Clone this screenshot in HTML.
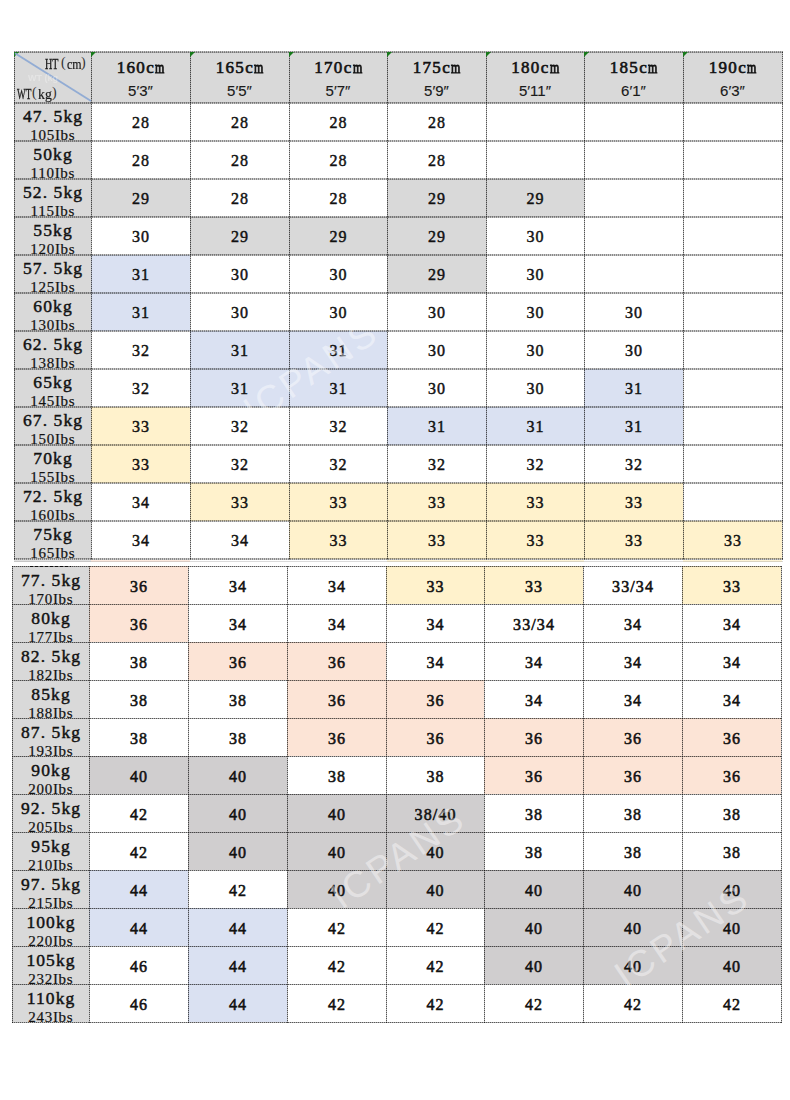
<!DOCTYPE html><html><head><meta charset="utf-8"><style>
html,body{margin:0;padding:0;background:#fff;}
body{width:790px;height:1100px;position:relative;overflow:hidden;font-family:"Liberation Serif",serif;}
div{position:absolute;box-sizing:border-box;}
.hl{background:repeating-linear-gradient(90deg,rgba(0,0,0,0.66) 0 1px,rgba(0,0,0,0.3) 1px 2px);}
.hu{background:repeating-linear-gradient(90deg,rgba(0,0,0,0.46) 0 1px,rgba(0,0,0,0.22) 1px 2px);}
.vl{background:repeating-linear-gradient(180deg,rgba(0,0,0,0.68) 0 1px,rgba(0,0,0,0.27) 1px 2px);}
.c span{position:absolute;left:0;right:0;top:10px;text-align:center;white-space:nowrap;font-size:16px;-webkit-text-stroke:0.35px #111;letter-spacing:1.1px;text-indent:1.1px;color:#111;}
.h span{position:absolute;left:0;right:0;text-align:center;white-space:nowrap;}
.hc{top:6px;font-size:17px;-webkit-text-stroke:0.6px #111;letter-spacing:1.3px;text-indent:1.3px;color:#111;}
.mm{font-style:normal;display:inline-block;transform:scaleX(0.7);transform-origin:0 50%;margin-left:-1px;margin-right:-3px;letter-spacing:0;-webkit-text-stroke:0.9px #111;}
.hf{top:30px;font-family:"Liberation Sans",sans-serif;font-size:15px;color:#1a1a1a;-webkit-text-stroke:0.15px #1a1a1a;}
.k{overflow:hidden;}
.k span{position:absolute;left:0;right:0;text-align:center;white-space:nowrap;}
.kg{top:3px;font-size:17.5px;-webkit-text-stroke:0.45px #111;letter-spacing:1.1px;text-indent:1.1px;color:#111;}
.tri{width:0;height:0;border-top:5px solid #17791a;border-right:5px solid transparent;}
.dg{font-size:14px;line-height:16px;color:#1a1a1a;-webkit-text-stroke:0.3px #1a1a1a;transform:scaleX(0.72);transform-origin:0 0;white-space:nowrap;}
.dgp{font-size:14px;line-height:16px;color:#333;white-space:nowrap;}
.dgl{font-size:14.5px;line-height:16px;color:#1a1a1a;-webkit-text-stroke:0.2px #1a1a1a;transform:scaleX(0.82);transform-origin:0 0;white-space:nowrap;}
.ghost{font-family:"Liberation Sans",sans-serif;font-weight:bold;font-size:9px;line-height:10px;color:rgba(255,255,255,0.3);filter:blur(0.4px);white-space:nowrap;}
.wm{width:200px;height:50px;line-height:50px;text-align:center;font-family:"Liberation Sans",sans-serif;font-size:37px;letter-spacing:3px;text-indent:3px;color:rgba(255,255,255,0.42);transform:rotate(-34deg);white-space:nowrap;}
.lb{top:24px;font-size:15px;letter-spacing:0.7px;text-indent:0.7px;color:#111;-webkit-text-stroke:0.2px #111;}
</style></head><body>
<div style="left:14px;top:52px;width:768px;height:51px;background:#d9d9d9"></div>
<div class="h" style="left:91px;top:52px;width:99px;height:51px;"><span class="hc">160c<i class="mm">m</i></span><span class="hf">5′3″</span></div>
<div class="h" style="left:190px;top:52px;width:99px;height:51px;"><span class="hc">165c<i class="mm">m</i></span><span class="hf">5′5″</span></div>
<div class="h" style="left:289px;top:52px;width:98px;height:51px;"><span class="hc">170c<i class="mm">m</i></span><span class="hf">5′7″</span></div>
<div class="h" style="left:387px;top:52px;width:99px;height:51px;"><span class="hc">175c<i class="mm">m</i></span><span class="hf">5′9″</span></div>
<div class="h" style="left:486px;top:52px;width:98px;height:51px;"><span class="hc">180c<i class="mm">m</i></span><span class="hf">5′11″</span></div>
<div class="h" style="left:584px;top:52px;width:99px;height:51px;"><span class="hc">185c<i class="mm">m</i></span><span class="hf">6′1″</span></div>
<div class="h" style="left:683px;top:52px;width:99px;height:51px;"><span class="hc">190c<i class="mm">m</i></span><span class="hf">6′3″</span></div>
<div class="k" style="left:14px;top:103px;width:77px;height:38px;background:#d9d9d9"><span class="kg" style="top:3px">47. 5kg</span><span class="lb" style="top:24px">105Ibs</span></div>
<div class="c" style="left:91px;top:103px;width:99px;height:38px;"><span style="top:11px;-webkit-text-stroke:0.45px #111">28</span></div>
<div class="c" style="left:190px;top:103px;width:99px;height:38px;"><span style="top:11px;-webkit-text-stroke:0.45px #111">28</span></div>
<div class="c" style="left:289px;top:103px;width:98px;height:38px;"><span style="top:11px;-webkit-text-stroke:0.45px #111">28</span></div>
<div class="c" style="left:387px;top:103px;width:99px;height:38px;"><span style="top:11px;-webkit-text-stroke:0.45px #111">28</span></div>
<div class="c" style="left:486px;top:103px;width:98px;height:38px;"></div>
<div class="c" style="left:584px;top:103px;width:99px;height:38px;"></div>
<div class="c" style="left:683px;top:103px;width:99px;height:38px;"></div>
<div class="k" style="left:14px;top:141px;width:77px;height:38px;background:#d9d9d9"><span class="kg" style="top:3px">50kg</span><span class="lb" style="top:24px">110Ibs</span></div>
<div class="c" style="left:91px;top:141px;width:99px;height:38px;"><span style="top:11px;-webkit-text-stroke:0.45px #111">28</span></div>
<div class="c" style="left:190px;top:141px;width:99px;height:38px;"><span style="top:11px;-webkit-text-stroke:0.45px #111">28</span></div>
<div class="c" style="left:289px;top:141px;width:98px;height:38px;"><span style="top:11px;-webkit-text-stroke:0.45px #111">28</span></div>
<div class="c" style="left:387px;top:141px;width:99px;height:38px;"><span style="top:11px;-webkit-text-stroke:0.45px #111">28</span></div>
<div class="c" style="left:486px;top:141px;width:98px;height:38px;"></div>
<div class="c" style="left:584px;top:141px;width:99px;height:38px;"></div>
<div class="c" style="left:683px;top:141px;width:99px;height:38px;"></div>
<div class="k" style="left:14px;top:179px;width:77px;height:38px;background:#d9d9d9"><span class="kg" style="top:3px">52. 5kg</span><span class="lb" style="top:24px">115Ibs</span></div>
<div class="c" style="left:91px;top:179px;width:99px;height:38px;background:#d9d9d9;"><span style="top:11px;-webkit-text-stroke:0.45px #111">29</span></div>
<div class="c" style="left:190px;top:179px;width:99px;height:38px;"><span style="top:11px;-webkit-text-stroke:0.45px #111">28</span></div>
<div class="c" style="left:289px;top:179px;width:98px;height:38px;"><span style="top:11px;-webkit-text-stroke:0.45px #111">28</span></div>
<div class="c" style="left:387px;top:179px;width:99px;height:38px;background:#d9d9d9;"><span style="top:11px;-webkit-text-stroke:0.45px #111">29</span></div>
<div class="c" style="left:486px;top:179px;width:98px;height:38px;background:#d9d9d9;"><span style="top:11px;-webkit-text-stroke:0.45px #111">29</span></div>
<div class="c" style="left:584px;top:179px;width:99px;height:38px;"></div>
<div class="c" style="left:683px;top:179px;width:99px;height:38px;"></div>
<div class="k" style="left:14px;top:217px;width:77px;height:38px;background:#d9d9d9"><span class="kg" style="top:3px">55kg</span><span class="lb" style="top:24px">120Ibs</span></div>
<div class="c" style="left:91px;top:217px;width:99px;height:38px;"><span style="top:11px;-webkit-text-stroke:0.45px #111">30</span></div>
<div class="c" style="left:190px;top:217px;width:99px;height:38px;background:#d9d9d9;"><span style="top:11px;-webkit-text-stroke:0.45px #111">29</span></div>
<div class="c" style="left:289px;top:217px;width:98px;height:38px;background:#d9d9d9;"><span style="top:11px;-webkit-text-stroke:0.45px #111">29</span></div>
<div class="c" style="left:387px;top:217px;width:99px;height:38px;background:#d9d9d9;"><span style="top:11px;-webkit-text-stroke:0.45px #111">29</span></div>
<div class="c" style="left:486px;top:217px;width:98px;height:38px;"><span style="top:11px;-webkit-text-stroke:0.45px #111">30</span></div>
<div class="c" style="left:584px;top:217px;width:99px;height:38px;"></div>
<div class="c" style="left:683px;top:217px;width:99px;height:38px;"></div>
<div class="k" style="left:14px;top:255px;width:77px;height:38px;background:#d9d9d9"><span class="kg" style="top:3px">57. 5kg</span><span class="lb" style="top:24px">125Ibs</span></div>
<div class="c" style="left:91px;top:255px;width:99px;height:38px;background:#dae1f2;"><span style="top:11px;-webkit-text-stroke:0.45px #111">31</span></div>
<div class="c" style="left:190px;top:255px;width:99px;height:38px;"><span style="top:11px;-webkit-text-stroke:0.45px #111">30</span></div>
<div class="c" style="left:289px;top:255px;width:98px;height:38px;"><span style="top:11px;-webkit-text-stroke:0.45px #111">30</span></div>
<div class="c" style="left:387px;top:255px;width:99px;height:38px;background:#d9d9d9;"><span style="top:11px;-webkit-text-stroke:0.45px #111">29</span></div>
<div class="c" style="left:486px;top:255px;width:98px;height:38px;"><span style="top:11px;-webkit-text-stroke:0.45px #111">30</span></div>
<div class="c" style="left:584px;top:255px;width:99px;height:38px;"></div>
<div class="c" style="left:683px;top:255px;width:99px;height:38px;"></div>
<div class="k" style="left:14px;top:293px;width:77px;height:38px;background:#d9d9d9"><span class="kg" style="top:3px">60kg</span><span class="lb" style="top:24px">130Ibs</span></div>
<div class="c" style="left:91px;top:293px;width:99px;height:38px;background:#dae1f2;"><span style="top:11px;-webkit-text-stroke:0.45px #111">31</span></div>
<div class="c" style="left:190px;top:293px;width:99px;height:38px;"><span style="top:11px;-webkit-text-stroke:0.45px #111">30</span></div>
<div class="c" style="left:289px;top:293px;width:98px;height:38px;"><span style="top:11px;-webkit-text-stroke:0.45px #111">30</span></div>
<div class="c" style="left:387px;top:293px;width:99px;height:38px;"><span style="top:11px;-webkit-text-stroke:0.45px #111">30</span></div>
<div class="c" style="left:486px;top:293px;width:98px;height:38px;"><span style="top:11px;-webkit-text-stroke:0.45px #111">30</span></div>
<div class="c" style="left:584px;top:293px;width:99px;height:38px;"><span style="top:11px;-webkit-text-stroke:0.45px #111">30</span></div>
<div class="c" style="left:683px;top:293px;width:99px;height:38px;"></div>
<div class="k" style="left:14px;top:331px;width:77px;height:38px;background:#d9d9d9"><span class="kg" style="top:3px">62. 5kg</span><span class="lb" style="top:24px">138Ibs</span></div>
<div class="c" style="left:91px;top:331px;width:99px;height:38px;"><span style="top:11px;-webkit-text-stroke:0.45px #111">32</span></div>
<div class="c" style="left:190px;top:331px;width:99px;height:38px;background:#dae1f2;"><span style="top:11px;-webkit-text-stroke:0.45px #111">31</span></div>
<div class="c" style="left:289px;top:331px;width:98px;height:38px;background:#dae1f2;"><span style="top:11px;-webkit-text-stroke:0.45px #111">31</span></div>
<div class="c" style="left:387px;top:331px;width:99px;height:38px;"><span style="top:11px;-webkit-text-stroke:0.45px #111">30</span></div>
<div class="c" style="left:486px;top:331px;width:98px;height:38px;"><span style="top:11px;-webkit-text-stroke:0.45px #111">30</span></div>
<div class="c" style="left:584px;top:331px;width:99px;height:38px;"><span style="top:11px;-webkit-text-stroke:0.45px #111">30</span></div>
<div class="c" style="left:683px;top:331px;width:99px;height:38px;"></div>
<div class="k" style="left:14px;top:369px;width:77px;height:38px;background:#d9d9d9"><span class="kg" style="top:3px">65kg</span><span class="lb" style="top:24px">145Ibs</span></div>
<div class="c" style="left:91px;top:369px;width:99px;height:38px;"><span style="top:11px;-webkit-text-stroke:0.45px #111">32</span></div>
<div class="c" style="left:190px;top:369px;width:99px;height:38px;background:#dae1f2;"><span style="top:11px;-webkit-text-stroke:0.45px #111">31</span></div>
<div class="c" style="left:289px;top:369px;width:98px;height:38px;background:#dae1f2;"><span style="top:11px;-webkit-text-stroke:0.45px #111">31</span></div>
<div class="c" style="left:387px;top:369px;width:99px;height:38px;"><span style="top:11px;-webkit-text-stroke:0.45px #111">30</span></div>
<div class="c" style="left:486px;top:369px;width:98px;height:38px;"><span style="top:11px;-webkit-text-stroke:0.45px #111">30</span></div>
<div class="c" style="left:584px;top:369px;width:99px;height:38px;background:#dae1f2;"><span style="top:11px;-webkit-text-stroke:0.45px #111">31</span></div>
<div class="c" style="left:683px;top:369px;width:99px;height:38px;"></div>
<div class="k" style="left:14px;top:407px;width:77px;height:38px;background:#d9d9d9"><span class="kg" style="top:3px">67. 5kg</span><span class="lb" style="top:24px">150Ibs</span></div>
<div class="c" style="left:91px;top:407px;width:99px;height:38px;background:#fff2cc;"><span style="top:11px;-webkit-text-stroke:0.45px #111">33</span></div>
<div class="c" style="left:190px;top:407px;width:99px;height:38px;"><span style="top:11px;-webkit-text-stroke:0.45px #111">32</span></div>
<div class="c" style="left:289px;top:407px;width:98px;height:38px;"><span style="top:11px;-webkit-text-stroke:0.45px #111">32</span></div>
<div class="c" style="left:387px;top:407px;width:99px;height:38px;background:#dae1f2;"><span style="top:11px;-webkit-text-stroke:0.45px #111">31</span></div>
<div class="c" style="left:486px;top:407px;width:98px;height:38px;background:#dae1f2;"><span style="top:11px;-webkit-text-stroke:0.45px #111">31</span></div>
<div class="c" style="left:584px;top:407px;width:99px;height:38px;background:#dae1f2;"><span style="top:11px;-webkit-text-stroke:0.45px #111">31</span></div>
<div class="c" style="left:683px;top:407px;width:99px;height:38px;"></div>
<div class="k" style="left:14px;top:445px;width:77px;height:38px;background:#d9d9d9"><span class="kg" style="top:3px">70kg</span><span class="lb" style="top:24px">155Ibs</span></div>
<div class="c" style="left:91px;top:445px;width:99px;height:38px;background:#fff2cc;"><span style="top:11px;-webkit-text-stroke:0.45px #111">33</span></div>
<div class="c" style="left:190px;top:445px;width:99px;height:38px;"><span style="top:11px;-webkit-text-stroke:0.45px #111">32</span></div>
<div class="c" style="left:289px;top:445px;width:98px;height:38px;"><span style="top:11px;-webkit-text-stroke:0.45px #111">32</span></div>
<div class="c" style="left:387px;top:445px;width:99px;height:38px;"><span style="top:11px;-webkit-text-stroke:0.45px #111">32</span></div>
<div class="c" style="left:486px;top:445px;width:98px;height:38px;"><span style="top:11px;-webkit-text-stroke:0.45px #111">32</span></div>
<div class="c" style="left:584px;top:445px;width:99px;height:38px;"><span style="top:11px;-webkit-text-stroke:0.45px #111">32</span></div>
<div class="c" style="left:683px;top:445px;width:99px;height:38px;"></div>
<div class="k" style="left:14px;top:483px;width:77px;height:38px;background:#d9d9d9"><span class="kg" style="top:3px">72. 5kg</span><span class="lb" style="top:24px">160Ibs</span></div>
<div class="c" style="left:91px;top:483px;width:99px;height:38px;"><span style="top:11px;-webkit-text-stroke:0.45px #111">34</span></div>
<div class="c" style="left:190px;top:483px;width:99px;height:38px;background:#fff2cc;"><span style="top:11px;-webkit-text-stroke:0.45px #111">33</span></div>
<div class="c" style="left:289px;top:483px;width:98px;height:38px;background:#fff2cc;"><span style="top:11px;-webkit-text-stroke:0.45px #111">33</span></div>
<div class="c" style="left:387px;top:483px;width:99px;height:38px;background:#fff2cc;"><span style="top:11px;-webkit-text-stroke:0.45px #111">33</span></div>
<div class="c" style="left:486px;top:483px;width:98px;height:38px;background:#fff2cc;"><span style="top:11px;-webkit-text-stroke:0.45px #111">33</span></div>
<div class="c" style="left:584px;top:483px;width:99px;height:38px;background:#fff2cc;"><span style="top:11px;-webkit-text-stroke:0.45px #111">33</span></div>
<div class="c" style="left:683px;top:483px;width:99px;height:38px;"></div>
<div class="k" style="left:14px;top:521px;width:77px;height:38px;background:#d9d9d9"><span class="kg" style="top:3px">75kg</span><span class="lb" style="top:24px">165Ibs</span></div>
<div class="c" style="left:91px;top:521px;width:99px;height:38px;"><span style="top:11px;-webkit-text-stroke:0.45px #111">34</span></div>
<div class="c" style="left:190px;top:521px;width:99px;height:38px;"><span style="top:11px;-webkit-text-stroke:0.45px #111">34</span></div>
<div class="c" style="left:289px;top:521px;width:98px;height:38px;background:#fff2cc;"><span style="top:11px;-webkit-text-stroke:0.45px #111">33</span></div>
<div class="c" style="left:387px;top:521px;width:99px;height:38px;background:#fff2cc;"><span style="top:11px;-webkit-text-stroke:0.45px #111">33</span></div>
<div class="c" style="left:486px;top:521px;width:98px;height:38px;background:#fff2cc;"><span style="top:11px;-webkit-text-stroke:0.45px #111">33</span></div>
<div class="c" style="left:584px;top:521px;width:99px;height:38px;background:#fff2cc;"><span style="top:11px;-webkit-text-stroke:0.45px #111">33</span></div>
<div class="c" style="left:683px;top:521px;width:99px;height:38px;background:#fff2cc;"><span style="top:11px;-webkit-text-stroke:0.45px #111">33</span></div>
<div class="hu" style="left:14px;top:51px;width:769px;height:2px;"></div>
<div class="hu" style="left:14px;top:102px;width:769px;height:2px;"></div>
<div class="hu" style="left:14px;top:140px;width:769px;height:2px;"></div>
<div class="hu" style="left:14px;top:178px;width:769px;height:2px;"></div>
<div class="hu" style="left:14px;top:216px;width:769px;height:2px;"></div>
<div class="hu" style="left:14px;top:254px;width:769px;height:2px;"></div>
<div class="hu" style="left:14px;top:292px;width:769px;height:2px;"></div>
<div class="hu" style="left:14px;top:330px;width:769px;height:2px;"></div>
<div class="hu" style="left:14px;top:368px;width:769px;height:2px;"></div>
<div class="hu" style="left:14px;top:406px;width:769px;height:2px;"></div>
<div class="hu" style="left:14px;top:444px;width:769px;height:2px;"></div>
<div class="hu" style="left:14px;top:482px;width:769px;height:2px;"></div>
<div class="hu" style="left:14px;top:520px;width:769px;height:2px;"></div>
<div class="hu" style="left:14px;top:558px;width:769px;height:2px;"></div>
<div class="vl" style="left:14px;top:52px;width:1px;height:508px;"></div>
<div class="vl" style="left:91px;top:52px;width:1px;height:508px;"></div>
<div class="vl" style="left:190px;top:52px;width:1px;height:508px;"></div>
<div class="vl" style="left:289px;top:52px;width:1px;height:508px;"></div>
<div class="vl" style="left:387px;top:52px;width:1px;height:508px;"></div>
<div class="vl" style="left:486px;top:52px;width:1px;height:508px;"></div>
<div class="vl" style="left:584px;top:52px;width:1px;height:508px;"></div>
<div class="vl" style="left:683px;top:52px;width:1px;height:508px;"></div>
<div class="vl" style="left:782px;top:52px;width:1px;height:508px;"></div>
<div class="k" style="left:12px;top:566px;width:77px;height:38px;background:#d9d9d9"><span class="kg" style="top:4px">77. 5kg</span><span class="lb" style="top:25px">170Ibs</span></div>
<div class="c" style="left:89px;top:566px;width:99px;height:38px;background:#fce4d6;"><span style="top:12px;-webkit-text-stroke:0.55px #111">36</span></div>
<div class="c" style="left:188px;top:566px;width:99px;height:38px;"><span style="top:12px;-webkit-text-stroke:0.55px #111">34</span></div>
<div class="c" style="left:287px;top:566px;width:99px;height:38px;"><span style="top:12px;-webkit-text-stroke:0.55px #111">34</span></div>
<div class="c" style="left:386px;top:566px;width:98px;height:38px;background:#fff2cc;"><span style="top:12px;-webkit-text-stroke:0.55px #111">33</span></div>
<div class="c" style="left:484px;top:566px;width:99px;height:38px;background:#fff2cc;"><span style="top:12px;-webkit-text-stroke:0.55px #111">33</span></div>
<div class="c" style="left:583px;top:566px;width:99px;height:38px;"><span style="top:12px;-webkit-text-stroke:0.55px #111">33/34</span></div>
<div class="c" style="left:682px;top:566px;width:99px;height:38px;background:#fff2cc;"><span style="top:12px;-webkit-text-stroke:0.55px #111">33</span></div>
<div class="k" style="left:12px;top:604px;width:77px;height:38px;background:#d9d9d9"><span class="kg" style="top:4px">80kg</span><span class="lb" style="top:25px">177Ibs</span></div>
<div class="c" style="left:89px;top:604px;width:99px;height:38px;background:#fce4d6;"><span style="top:12px;-webkit-text-stroke:0.55px #111">36</span></div>
<div class="c" style="left:188px;top:604px;width:99px;height:38px;"><span style="top:12px;-webkit-text-stroke:0.55px #111">34</span></div>
<div class="c" style="left:287px;top:604px;width:99px;height:38px;"><span style="top:12px;-webkit-text-stroke:0.55px #111">34</span></div>
<div class="c" style="left:386px;top:604px;width:98px;height:38px;"><span style="top:12px;-webkit-text-stroke:0.55px #111">34</span></div>
<div class="c" style="left:484px;top:604px;width:99px;height:38px;"><span style="top:12px;-webkit-text-stroke:0.55px #111">33/34</span></div>
<div class="c" style="left:583px;top:604px;width:99px;height:38px;"><span style="top:12px;-webkit-text-stroke:0.55px #111">34</span></div>
<div class="c" style="left:682px;top:604px;width:99px;height:38px;"><span style="top:12px;-webkit-text-stroke:0.55px #111">34</span></div>
<div class="k" style="left:12px;top:642px;width:77px;height:38px;background:#d9d9d9"><span class="kg" style="top:4px">82. 5kg</span><span class="lb" style="top:25px">182Ibs</span></div>
<div class="c" style="left:89px;top:642px;width:99px;height:38px;"><span style="top:12px;-webkit-text-stroke:0.55px #111">38</span></div>
<div class="c" style="left:188px;top:642px;width:99px;height:38px;background:#fce4d6;"><span style="top:12px;-webkit-text-stroke:0.55px #111">36</span></div>
<div class="c" style="left:287px;top:642px;width:99px;height:38px;background:#fce4d6;"><span style="top:12px;-webkit-text-stroke:0.55px #111">36</span></div>
<div class="c" style="left:386px;top:642px;width:98px;height:38px;"><span style="top:12px;-webkit-text-stroke:0.55px #111">34</span></div>
<div class="c" style="left:484px;top:642px;width:99px;height:38px;"><span style="top:12px;-webkit-text-stroke:0.55px #111">34</span></div>
<div class="c" style="left:583px;top:642px;width:99px;height:38px;"><span style="top:12px;-webkit-text-stroke:0.55px #111">34</span></div>
<div class="c" style="left:682px;top:642px;width:99px;height:38px;"><span style="top:12px;-webkit-text-stroke:0.55px #111">34</span></div>
<div class="k" style="left:12px;top:680px;width:77px;height:38px;background:#d9d9d9"><span class="kg" style="top:4px">85kg</span><span class="lb" style="top:25px">188Ibs</span></div>
<div class="c" style="left:89px;top:680px;width:99px;height:38px;"><span style="top:12px;-webkit-text-stroke:0.55px #111">38</span></div>
<div class="c" style="left:188px;top:680px;width:99px;height:38px;"><span style="top:12px;-webkit-text-stroke:0.55px #111">38</span></div>
<div class="c" style="left:287px;top:680px;width:99px;height:38px;background:#fce4d6;"><span style="top:12px;-webkit-text-stroke:0.55px #111">36</span></div>
<div class="c" style="left:386px;top:680px;width:98px;height:38px;background:#fce4d6;"><span style="top:12px;-webkit-text-stroke:0.55px #111">36</span></div>
<div class="c" style="left:484px;top:680px;width:99px;height:38px;"><span style="top:12px;-webkit-text-stroke:0.55px #111">34</span></div>
<div class="c" style="left:583px;top:680px;width:99px;height:38px;"><span style="top:12px;-webkit-text-stroke:0.55px #111">34</span></div>
<div class="c" style="left:682px;top:680px;width:99px;height:38px;"><span style="top:12px;-webkit-text-stroke:0.55px #111">34</span></div>
<div class="k" style="left:12px;top:718px;width:77px;height:38px;background:#d9d9d9"><span class="kg" style="top:4px">87. 5kg</span><span class="lb" style="top:25px">193Ibs</span></div>
<div class="c" style="left:89px;top:718px;width:99px;height:38px;"><span style="top:12px;-webkit-text-stroke:0.55px #111">38</span></div>
<div class="c" style="left:188px;top:718px;width:99px;height:38px;"><span style="top:12px;-webkit-text-stroke:0.55px #111">38</span></div>
<div class="c" style="left:287px;top:718px;width:99px;height:38px;background:#fce4d6;"><span style="top:12px;-webkit-text-stroke:0.55px #111">36</span></div>
<div class="c" style="left:386px;top:718px;width:98px;height:38px;background:#fce4d6;"><span style="top:12px;-webkit-text-stroke:0.55px #111">36</span></div>
<div class="c" style="left:484px;top:718px;width:99px;height:38px;background:#fce4d6;"><span style="top:12px;-webkit-text-stroke:0.55px #111">36</span></div>
<div class="c" style="left:583px;top:718px;width:99px;height:38px;background:#fce4d6;"><span style="top:12px;-webkit-text-stroke:0.55px #111">36</span></div>
<div class="c" style="left:682px;top:718px;width:99px;height:38px;background:#fce4d6;"><span style="top:12px;-webkit-text-stroke:0.55px #111">36</span></div>
<div class="k" style="left:12px;top:756px;width:77px;height:38px;background:#d9d9d9"><span class="kg" style="top:4px">90kg</span><span class="lb" style="top:25px">200Ibs</span></div>
<div class="c" style="left:89px;top:756px;width:99px;height:38px;background:#d0cecf;"><span style="top:12px;-webkit-text-stroke:0.55px #111">40</span></div>
<div class="c" style="left:188px;top:756px;width:99px;height:38px;background:#d0cecf;"><span style="top:12px;-webkit-text-stroke:0.55px #111">40</span></div>
<div class="c" style="left:287px;top:756px;width:99px;height:38px;"><span style="top:12px;-webkit-text-stroke:0.55px #111">38</span></div>
<div class="c" style="left:386px;top:756px;width:98px;height:38px;"><span style="top:12px;-webkit-text-stroke:0.55px #111">38</span></div>
<div class="c" style="left:484px;top:756px;width:99px;height:38px;background:#fce4d6;"><span style="top:12px;-webkit-text-stroke:0.55px #111">36</span></div>
<div class="c" style="left:583px;top:756px;width:99px;height:38px;background:#fce4d6;"><span style="top:12px;-webkit-text-stroke:0.55px #111">36</span></div>
<div class="c" style="left:682px;top:756px;width:99px;height:38px;background:#fce4d6;"><span style="top:12px;-webkit-text-stroke:0.55px #111">36</span></div>
<div class="k" style="left:12px;top:794px;width:77px;height:38px;background:#d9d9d9"><span class="kg" style="top:4px">92. 5kg</span><span class="lb" style="top:25px">205Ibs</span></div>
<div class="c" style="left:89px;top:794px;width:99px;height:38px;"><span style="top:12px;-webkit-text-stroke:0.55px #111">42</span></div>
<div class="c" style="left:188px;top:794px;width:99px;height:38px;background:#d0cecf;"><span style="top:12px;-webkit-text-stroke:0.55px #111">40</span></div>
<div class="c" style="left:287px;top:794px;width:99px;height:38px;background:#d0cecf;"><span style="top:12px;-webkit-text-stroke:0.55px #111">40</span></div>
<div class="c" style="left:386px;top:794px;width:98px;height:38px;background:#d0cecf;"><span style="top:12px;-webkit-text-stroke:0.55px #111">38/40</span></div>
<div class="c" style="left:484px;top:794px;width:99px;height:38px;"><span style="top:12px;-webkit-text-stroke:0.55px #111">38</span></div>
<div class="c" style="left:583px;top:794px;width:99px;height:38px;"><span style="top:12px;-webkit-text-stroke:0.55px #111">38</span></div>
<div class="c" style="left:682px;top:794px;width:99px;height:38px;"><span style="top:12px;-webkit-text-stroke:0.55px #111">38</span></div>
<div class="k" style="left:12px;top:832px;width:77px;height:38px;background:#d9d9d9"><span class="kg" style="top:4px">95kg</span><span class="lb" style="top:25px">210Ibs</span></div>
<div class="c" style="left:89px;top:832px;width:99px;height:38px;"><span style="top:12px;-webkit-text-stroke:0.55px #111">42</span></div>
<div class="c" style="left:188px;top:832px;width:99px;height:38px;background:#d0cecf;"><span style="top:12px;-webkit-text-stroke:0.55px #111">40</span></div>
<div class="c" style="left:287px;top:832px;width:99px;height:38px;background:#d0cecf;"><span style="top:12px;-webkit-text-stroke:0.55px #111">40</span></div>
<div class="c" style="left:386px;top:832px;width:98px;height:38px;background:#d0cecf;"><span style="top:12px;-webkit-text-stroke:0.55px #111">40</span></div>
<div class="c" style="left:484px;top:832px;width:99px;height:38px;"><span style="top:12px;-webkit-text-stroke:0.55px #111">38</span></div>
<div class="c" style="left:583px;top:832px;width:99px;height:38px;"><span style="top:12px;-webkit-text-stroke:0.55px #111">38</span></div>
<div class="c" style="left:682px;top:832px;width:99px;height:38px;"><span style="top:12px;-webkit-text-stroke:0.55px #111">38</span></div>
<div class="k" style="left:12px;top:870px;width:77px;height:38px;background:#d9d9d9"><span class="kg" style="top:4px">97. 5kg</span><span class="lb" style="top:25px">215Ibs</span></div>
<div class="c" style="left:89px;top:870px;width:99px;height:38px;background:#dae1f2;"><span style="top:12px;-webkit-text-stroke:0.55px #111">44</span></div>
<div class="c" style="left:188px;top:870px;width:99px;height:38px;"><span style="top:12px;-webkit-text-stroke:0.55px #111">42</span></div>
<div class="c" style="left:287px;top:870px;width:99px;height:38px;background:#d0cecf;"><span style="top:12px;-webkit-text-stroke:0.55px #111">40</span></div>
<div class="c" style="left:386px;top:870px;width:98px;height:38px;background:#d0cecf;"><span style="top:12px;-webkit-text-stroke:0.55px #111">40</span></div>
<div class="c" style="left:484px;top:870px;width:99px;height:38px;background:#d0cecf;"><span style="top:12px;-webkit-text-stroke:0.55px #111">40</span></div>
<div class="c" style="left:583px;top:870px;width:99px;height:38px;background:#d0cecf;"><span style="top:12px;-webkit-text-stroke:0.55px #111">40</span></div>
<div class="c" style="left:682px;top:870px;width:99px;height:38px;background:#d0cecf;"><span style="top:12px;-webkit-text-stroke:0.55px #111">40</span></div>
<div class="k" style="left:12px;top:908px;width:77px;height:38px;background:#d9d9d9"><span class="kg" style="top:4px">100kg</span><span class="lb" style="top:25px">220Ibs</span></div>
<div class="c" style="left:89px;top:908px;width:99px;height:38px;background:#dae1f2;"><span style="top:12px;-webkit-text-stroke:0.55px #111">44</span></div>
<div class="c" style="left:188px;top:908px;width:99px;height:38px;background:#dae1f2;"><span style="top:12px;-webkit-text-stroke:0.55px #111">44</span></div>
<div class="c" style="left:287px;top:908px;width:99px;height:38px;"><span style="top:12px;-webkit-text-stroke:0.55px #111">42</span></div>
<div class="c" style="left:386px;top:908px;width:98px;height:38px;"><span style="top:12px;-webkit-text-stroke:0.55px #111">42</span></div>
<div class="c" style="left:484px;top:908px;width:99px;height:38px;background:#d0cecf;"><span style="top:12px;-webkit-text-stroke:0.55px #111">40</span></div>
<div class="c" style="left:583px;top:908px;width:99px;height:38px;background:#d0cecf;"><span style="top:12px;-webkit-text-stroke:0.55px #111">40</span></div>
<div class="c" style="left:682px;top:908px;width:99px;height:38px;background:#d0cecf;"><span style="top:12px;-webkit-text-stroke:0.55px #111">40</span></div>
<div class="k" style="left:12px;top:946px;width:77px;height:38px;background:#d9d9d9"><span class="kg" style="top:4px">105kg</span><span class="lb" style="top:25px">232Ibs</span></div>
<div class="c" style="left:89px;top:946px;width:99px;height:38px;"><span style="top:12px;-webkit-text-stroke:0.55px #111">46</span></div>
<div class="c" style="left:188px;top:946px;width:99px;height:38px;background:#dae1f2;"><span style="top:12px;-webkit-text-stroke:0.55px #111">44</span></div>
<div class="c" style="left:287px;top:946px;width:99px;height:38px;"><span style="top:12px;-webkit-text-stroke:0.55px #111">42</span></div>
<div class="c" style="left:386px;top:946px;width:98px;height:38px;"><span style="top:12px;-webkit-text-stroke:0.55px #111">42</span></div>
<div class="c" style="left:484px;top:946px;width:99px;height:38px;background:#d0cecf;"><span style="top:12px;-webkit-text-stroke:0.55px #111">40</span></div>
<div class="c" style="left:583px;top:946px;width:99px;height:38px;background:#d0cecf;"><span style="top:12px;-webkit-text-stroke:0.55px #111">40</span></div>
<div class="c" style="left:682px;top:946px;width:99px;height:38px;background:#d0cecf;"><span style="top:12px;-webkit-text-stroke:0.55px #111">40</span></div>
<div class="k" style="left:12px;top:984px;width:77px;height:38px;background:#d9d9d9"><span class="kg" style="top:4px">110kg</span><span class="lb" style="top:25px">243Ibs</span></div>
<div class="c" style="left:89px;top:984px;width:99px;height:38px;"><span style="top:12px;-webkit-text-stroke:0.55px #111">46</span></div>
<div class="c" style="left:188px;top:984px;width:99px;height:38px;background:#dae1f2;"><span style="top:12px;-webkit-text-stroke:0.55px #111">44</span></div>
<div class="c" style="left:287px;top:984px;width:99px;height:38px;"><span style="top:12px;-webkit-text-stroke:0.55px #111">42</span></div>
<div class="c" style="left:386px;top:984px;width:98px;height:38px;"><span style="top:12px;-webkit-text-stroke:0.55px #111">42</span></div>
<div class="c" style="left:484px;top:984px;width:99px;height:38px;"><span style="top:12px;-webkit-text-stroke:0.55px #111">42</span></div>
<div class="c" style="left:583px;top:984px;width:99px;height:38px;"><span style="top:12px;-webkit-text-stroke:0.55px #111">42</span></div>
<div class="c" style="left:682px;top:984px;width:99px;height:38px;"><span style="top:12px;-webkit-text-stroke:0.55px #111">42</span></div>
<div class="hl" style="left:12px;top:566px;width:770px;height:1px;"></div>
<div class="hl" style="left:12px;top:604px;width:770px;height:1px;"></div>
<div class="hl" style="left:12px;top:642px;width:770px;height:1px;"></div>
<div class="hl" style="left:12px;top:680px;width:770px;height:1px;"></div>
<div class="hl" style="left:12px;top:718px;width:770px;height:1px;"></div>
<div class="hl" style="left:12px;top:756px;width:770px;height:1px;"></div>
<div class="hl" style="left:12px;top:794px;width:770px;height:1px;"></div>
<div class="hl" style="left:12px;top:832px;width:770px;height:1px;"></div>
<div class="hl" style="left:12px;top:870px;width:770px;height:1px;"></div>
<div class="hl" style="left:12px;top:908px;width:770px;height:1px;"></div>
<div class="hl" style="left:12px;top:946px;width:770px;height:1px;"></div>
<div class="hl" style="left:12px;top:984px;width:770px;height:1px;"></div>
<div class="hl" style="left:12px;top:1022px;width:770px;height:1px;"></div>
<div class="vl" style="left:12px;top:566px;width:1px;height:457px;"></div>
<div class="vl" style="left:89px;top:566px;width:1px;height:457px;"></div>
<div class="vl" style="left:188px;top:566px;width:1px;height:457px;"></div>
<div class="vl" style="left:287px;top:566px;width:1px;height:457px;"></div>
<div class="vl" style="left:386px;top:566px;width:1px;height:457px;"></div>
<div class="vl" style="left:484px;top:566px;width:1px;height:457px;"></div>
<div class="vl" style="left:583px;top:566px;width:1px;height:457px;"></div>
<div class="vl" style="left:682px;top:566px;width:1px;height:457px;"></div>
<div class="vl" style="left:781px;top:566px;width:1px;height:457px;"></div>
<div class="tri" style="left:14px;top:52px"></div>
<div class="tri" style="left:91px;top:52px"></div>
<div class="tri" style="left:190px;top:52px"></div>
<div class="tri" style="left:289px;top:52px"></div>
<div class="tri" style="left:387px;top:52px"></div>
<div class="tri" style="left:486px;top:52px"></div>
<div class="tri" style="left:584px;top:52px"></div>
<div class="tri" style="left:683px;top:52px"></div>
<svg style="position:absolute;left:0;top:0" width="790" height="1100"><line x1="15" y1="53.3" x2="91" y2="101" stroke="#92acd4" stroke-width="1.9"/></svg>
<div class="dg" style="left:45px;top:57px;">HT</div>
<div class="dg" style="left:17px;top:87px;transform:scaleX(0.66)">WT</div>
<div class="dgp" style="left:61px;top:55px;">(</div>
<div class="dgp" style="left:81px;top:55px;">)</div>
<div class="dgp" style="left:32px;top:85px;">(</div>
<div class="dgp" style="left:52px;top:85px;">)</div>
<div class="dgl" style="left:67px;top:56px;">cm</div>
<div class="dgl" style="left:38px;top:86px;transform:scaleX(0.95)">kg</div>
<div class="ghost" style="left:28px;top:73px;">WT (kg</div>
<div style="left:14px;top:560px;width:77px;height:2px;background:#d9d9d9;opacity:0.8"></div>
<div style="left:91px;top:560px;width:99px;height:2px;background:#fce4d6;opacity:0.8"></div>
<div style="left:387px;top:560px;width:99px;height:2px;background:#fff2cc;opacity:0.8"></div>
<div style="left:486px;top:560px;width:98px;height:2px;background:#fff2cc;opacity:0.8"></div>
<div style="left:683px;top:560px;width:99px;height:2px;background:#fff2cc;opacity:0.8"></div>
<div style="left:14px;top:561px;width:769px;height:1px;background:rgba(150,150,150,0.35)"></div>
<div style="left:30px;top:566px;width:41px;height:1px;background:repeating-linear-gradient(90deg,#111 0 3px,#777 3px 5px)"></div>
<div class="wm" style="left:210px;top:347px;">ICPANS</div>
<div class="wm" style="left:297px;top:833px;">ICPANS</div>
<div class="wm" style="left:581px;top:912px;">ICPANS</div>
</body></html>
